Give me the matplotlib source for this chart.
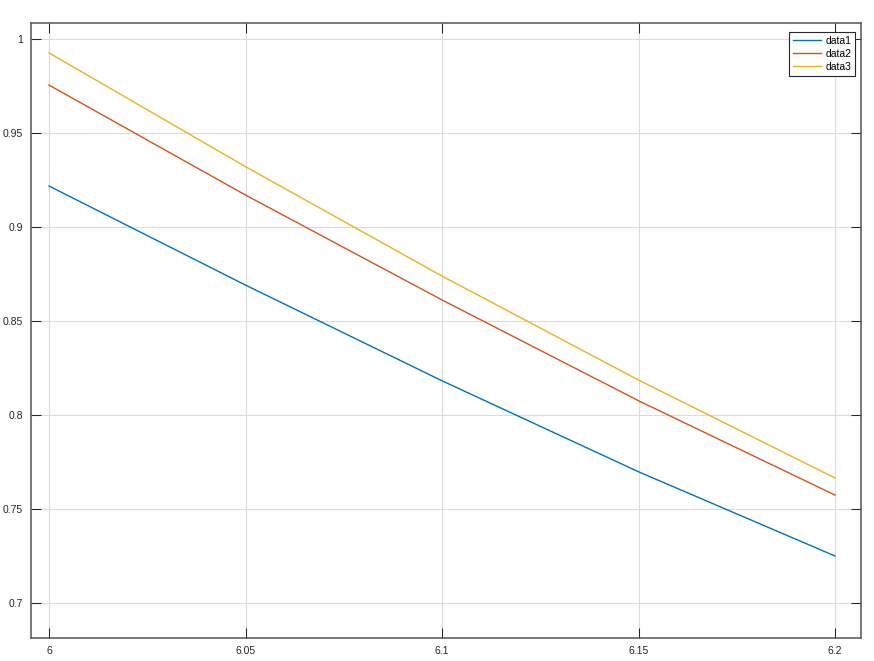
import matplotlib
matplotlib.use("Agg")
from matplotlib import pyplot as plt

plt.rcParams['font.family'] = ['Liberation Sans', 'DejaVu Sans']

x = [6.0, 6.05, 6.1, 6.15, 6.2]
data1 = [0.9218, 0.8691, 0.8182, 0.7698, 0.7250]
data2 = [0.9755, 0.9170, 0.8612, 0.8076, 0.7574]
data3 = [0.9926, 0.9321, 0.8739, 0.8186, 0.7665]
labels = ['data1', 'data2', 'data3']
colors = ['#0072BD', '#D95319', '#EDB120']

xticks = [6, 6.05, 6.1, 6.15, 6.2]
xticklabels = ['6', '6.05', '6.1', '6.15', '6.2']
yticks = [0.7, 0.75, 0.8, 0.85, 0.9, 0.95, 1]
yticklabels = ['0.7', '0.75', '0.8', '0.85', '0.9', '0.95', '1']

fig = plt.figure(figsize=(8.74, 6.61), dpi=100)
ax = fig.add_axes([31 / 874, 1 - 638 / 661, 830 / 874, 615 / 661])

for ys, lab, c in zip([data1, data2, data3], labels, colors):
    ax.plot(x, ys, color=c, lw=1.0, label=lab)

ax.set_xlim(6 - 18 / 3930, 6.2 + 26 / 3930)
ax.set_ylim(0.7 - 35 / 1880, 1 + 16 / 1880)
ax.set_xticks(xticks, xticklabels)
ax.set_yticks(yticks, yticklabels)
ax.grid(True, color='#dcdcdc', lw=0.8)
ax.set_axisbelow(True)
ax.tick_params(direction='in', length=7, width=0.75, color='#262626',
               labelsize=7.5, labelcolor='#262626',
               top=True, right=True, pad=6)
for s in ax.spines.values():
    s.set_color('#555555')
    s.set_linewidth(1.1)

# legend box sits a few pixels in from the top-right corner
leg = ax.legend(loc='upper right', bbox_to_anchor=(824 / 830, 606 / 615),
                borderaxespad=0, fontsize=7.5, frameon=True, fancybox=False,
                framealpha=1, edgecolor='#262626', handlelength=2.7,
                labelspacing=0.3, handletextpad=0.4, borderpad=0.35)
leg.get_frame().set_linewidth(0.8)

fig.savefig('out.png', dpi=100)
